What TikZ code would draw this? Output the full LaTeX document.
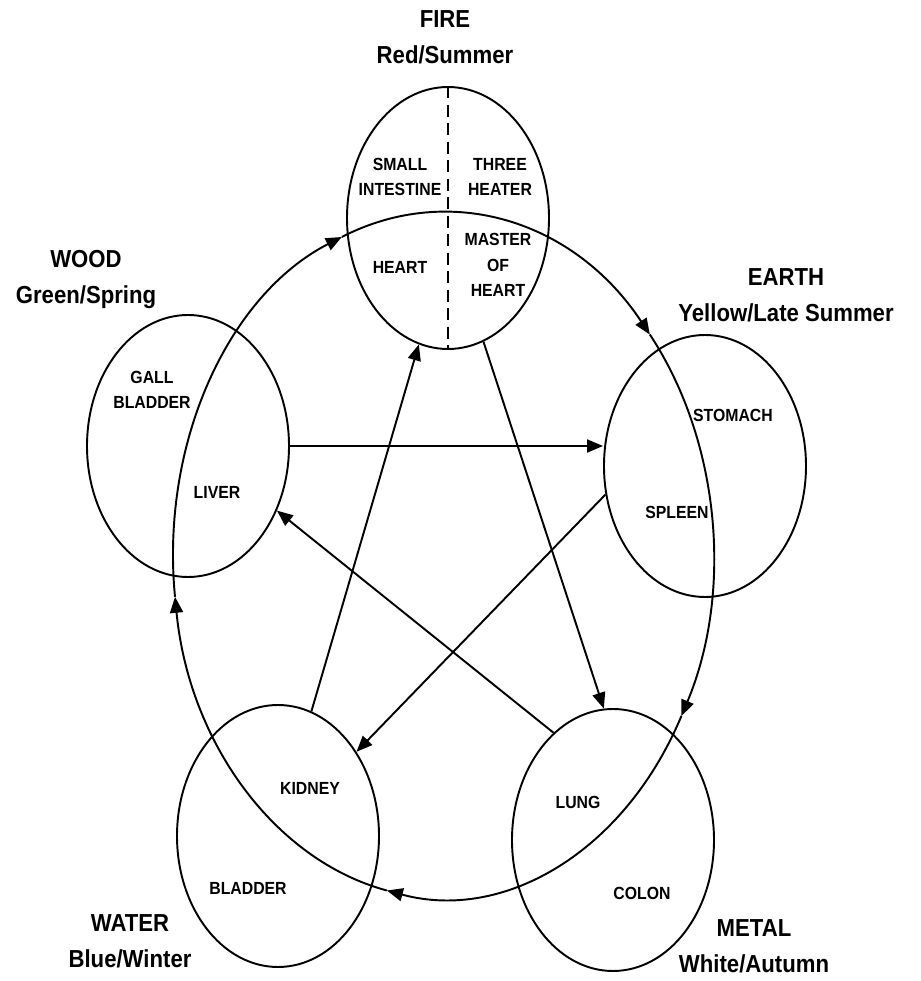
\documentclass[tikz,border=0pt]{standalone}
\usepackage{fontspec}
\setmainfont{Liberation Sans}[FakeStretch=0.9]
\usepackage{tikz}
\usetikzlibrary{shapes.geometric, arrows.meta, calc}
\tikzset{
    element/.style={
        ellipse, draw=black, minimum width=4.04cm, minimum height=5.24cm,
        inner sep=0pt, line width=1.1pt,
    },
    organ/.style={
        align=center, inner sep=1pt,
        font=\fontsize{10}{14.5}\selectfont\bfseries,
    },
    season/.style={
        align=center, inner sep=1pt,
        font=\fontsize{14}{20.5}\selectfont\bfseries,
    },
    feed/.style={-{Triangle[length=3.2mm, width=2.6mm]}, line width=1.1pt, draw=black},
    curb/.style={-{Triangle[length=3.2mm, width=2.6mm]}, line width=1.1pt, draw=black},
}
\begin{document}
\begin{tikzpicture}

    \useasboundingbox (0,0) rectangle (18.42,19.62);

    \node[element] (fire)  at (8.96,15.26) {};
    \node[element] (wood)  at (3.76,10.70) {};
    \node[element] (earth) at (14.10,10.30) {};
    \node[element] (water) at (5.56,2.90) {};
    \node[element] (metal) at (12.26,2.82) {};

    \draw[line width=1.1pt, dash pattern=on 2.4mm off 1.3mm] (fire.north) -- (fire.south);

    \node[season] (fireT)  at (8.90,18.88) {FIRE\\Red/Summer};
    \node[season] (woodT)  at (1.72,14.02) {WOOD\\Green/Spring};
    \node[season] (earthT) at (15.72,13.72) {EARTH\\Yellow/Late Summer};
    \node[season] (waterT) at (2.60,0.80) {WATER\\Blue/Winter};
    \node[season] (metalT) at (15.08,0.70) {METAL\\White/Autumn};

    \node[organ] (smallint) at (8.00,16.08) {SMALL\\INTESTINE};
    \node[organ] (threeh)   at (10.00,16.08) {THREE\\HEATER};
    \node[organ] (heart)    at (8.00,14.28) {HEART};
    \node[organ] (master)   at (9.96,14.32) {MASTER\\OF\\HEART};
    \node[organ] (gall)     at (3.04,11.82) {GALL\\BLADDER};
    \node[organ] (liver)    at (4.34,9.78) {LIVER};
    \node[organ] (stomach)  at (14.66,11.32) {STOMACH};
    \node[organ] (spleen)   at (13.54,9.38) {SPLEEN};
    \node[organ] (kidney)   at (6.20,3.86) {KIDNEY};
    \node[organ] (bladder)  at (4.96,1.86) {BLADDER};
    \node[organ] (lung)     at (11.56,3.58) {LUNG};
    \node[organ] (colon)    at (12.84,1.76) {COLON};

    % generating cycle
    \coordinate (hub) at (8.86,8.52);
    \coordinate (toFire)  at ($(hub)+(112:5.4cm and 6.86cm)$);
    \coordinate (toEarth) at ($(hub)+(40:5.4cm and 6.86cm)$);
    \coordinate (toMetal) at ($(hub)+(-28:5.4cm and 6.86cm)$);
    \coordinate (toWater) at ($(hub)+(-102:5.4cm and 6.86cm)$);
    \coordinate (toWood)  at ($(hub)+(-173:5.4cm and 6.86cm)$);

    \draw[feed] (toFire)  arc[start angle=112,  end angle=40,   x radius=5.4cm, y radius=6.86cm];
    \draw[feed] (toEarth) arc[start angle=40,   end angle=-28,  x radius=5.4cm, y radius=6.86cm];
    \draw[feed] (toMetal) arc[start angle=-28,  end angle=-102, x radius=5.4cm, y radius=6.86cm];
    \draw[feed] (toWater) arc[start angle=-102, end angle=-173, x radius=5.4cm, y radius=6.86cm];
    \draw[feed] (toWood)  arc[start angle=-173, end angle=-248, x radius=5.4cm, y radius=6.86cm];

    % controlling cycle
    \draw[curb] (wood.east) -- (wood.east -| earth.west);
    \draw[curb] (earth.196) -- (water.47);
    \draw[curb] (water.75) -- (fire.257);
    \draw[curb] (fire.286) -- (metal.94);
    \draw[curb] (metal.119) -- (wood.324);

\end{tikzpicture}
\end{document}
